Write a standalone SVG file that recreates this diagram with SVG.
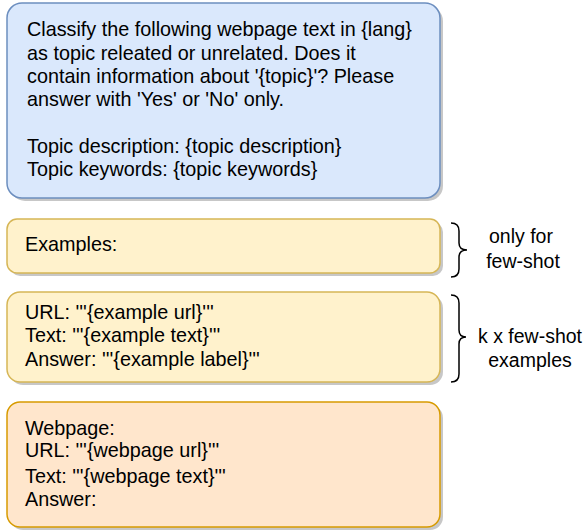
<svg xmlns="http://www.w3.org/2000/svg" width="587" height="531" viewBox="0 0 587 531">
<style>
text{font-family:"Liberation Sans",Arial,sans-serif;font-size:19.8px;fill:#000}
.sh{fill:#000;opacity:0.22}
.blue{fill:#dae8fc;stroke:#6c8ebf;stroke-width:1.5}
.yel{fill:#fff2cc;stroke:#d6b656;stroke-width:1.5}
.org{fill:#ffe6cc;stroke:#d79b00;stroke-width:1.5}
.brace{fill:none;stroke:#000;stroke-width:1.5}
.c{text-anchor:middle;font-size:19.5px}
</style>
<rect width="587" height="531" fill="#fff"/>
<g id="prompt">
<rect class="sh" x="10" y="6" width="433" height="195" rx="15"/>
<rect class="blue" x="7" y="3" width="433" height="195" rx="15"/>
<text x="27" y="36">Classify the following webpage text in {lang}</text>
<text x="27" y="60">as topic releated or unrelated. Does it</text>
<text x="27" y="83">contain information about '{topic}'? Please</text>
<text x="27" y="106">answer with 'Yes' or 'No' only.</text>
<text x="27" y="153">Topic description: {topic description}</text>
<text x="27" y="176">Topic keywords: {topic keywords}</text>
</g>
<g id="examples">
<rect class="sh" x="10" y="222" width="433" height="54" rx="10"/>
<rect class="yel" x="7" y="219" width="433" height="54" rx="10"/>
<text x="25" y="251">Examples:</text>
</g>
<g id="example">
<rect class="sh" x="10" y="295" width="433" height="90" rx="13"/>
<rect class="yel" x="7" y="292" width="433" height="90" rx="13"/>
<text x="25" y="319">URL: '''{example url}'''</text>
<text x="25" y="342">Text: '''{example text}'''</text>
<text x="25" y="366">Answer: '''{example label}'''</text>
</g>
<g id="webpage">
<rect class="sh" x="10" y="405" width="433" height="125" rx="13"/>
<rect class="org" x="7" y="402" width="433" height="125" rx="13"/>
<text x="25" y="435">Webpage:</text>
<text x="25" y="457">URL: '''{webpage url}'''</text>
<text x="25" y="483">Text: '''{webpage text}'''</text>
<text x="25" y="506">Answer:</text>
</g>
<g id="connectors">
<path class="brace" d="M451 223 Q459 223 459 231 L459 243 Q459 250 467 250 Q459 250 459 257 L459 269 Q459 277 451 277"/>
<path class="brace" d="M451 295 Q459 295 459 303 L459 330 Q459 337 466 337 Q459 337 459 344 L459 374 Q459 382 451 382"/>
</g>
<g id="labels">
<text class="c" x="521" y="243">only for</text>
<text class="c" x="523" y="268">few-shot</text>
<text class="c" x="530" y="343">k x few-shot</text>
<text class="c" x="530" y="367">examples</text>
</g>
</svg>
